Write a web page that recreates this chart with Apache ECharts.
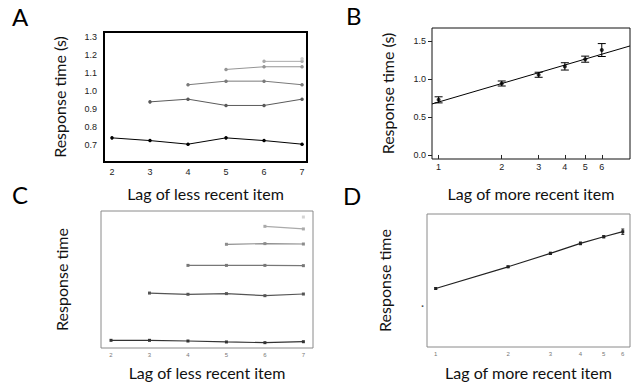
<!DOCTYPE html>
<html>
<head>
<meta charset="utf-8">
<script src="https://cdn.jsdelivr.net/npm/echarts@6/dist/echarts.min.js"></script>
<style>
  html, body { margin: 0; padding: 0; background: #fff; }
  #chart { width: 637px; height: 387px; }
</style>
</head>
<body>
<div id="chart"></div>
<script>
// Panel A: response time by lag of less recent item, one line per more-recent lag
const lagsA = [2, 3, 4, 5, 6, 7];
const rtA = [
  [0.74, 0.725, 0.705, 0.74, 0.725, 0.705],
  [null, 0.94, 0.955, 0.92, 0.92, 0.955],
  [null, null, 1.035, 1.055, 1.055, 1.035],
  [null, null, null, 1.12, 1.135, 1.135],
  [null, null, null, null, 1.165, 1.165],
  [null, null, null, null, null, 1.18]
];
const ticksA = [0.7, 0.8, 0.9, 1.0, 1.1, 1.2, 1.3];

// Panel B: mean response time with error bars and log fit
const lagsB = [1, 2, 3, 4, 5, 6];
const meanB = [0.725, 0.94, 1.055, 1.165, 1.26, 1.38];
const errB = [0.04, 0.033, 0.033, 0.048, 0.04, 0.085];
const fitXB = [0.93, 8.18];
const fitYB = [0.671, 1.434];
const ticksB = [0, 0.5, 1.0, 1.5];

// Panel C: model predictions (arbitrary units)
const lagsC = [2, 3, 4, 5, 6, 7];
const rtC = [
  [5.6, 5.6, 5.1, 4.4, 3.9, 4.6],
  [null, 40.1, 39.2, 39.7, 38.2, 39.4],
  [null, null, 60.3, 60.3, 60.3, 60.1],
  [null, null, null, 75.7, 76.2, 75.9],
  [null, null, null, null, 88.8, 86.9],
  [null, null, null, null, null, 95.6]
];

// Panel D: model predictions by lag of more recent item (arbitrary units)
const lagsD = [1, 2, 3, 4, 5, 6];
const rtD = [44.0, 60.3, 70.4, 77.9, 82.9, 86.7];
const errD = [0.6, 0.6, 0.8, 1.0, 0.8, 2.0];
const tickD = [33];

const colorsA = ['#000000', '#5a5a5a', '#7a7a7a', '#959595', '#aaaaaa', '#cccccc'];
const colorsC = ['#333333', '#555555', '#777777', '#8c8c8c', '#aaaaaa', '#d4d4d4'];

const titleFont = 'Lato, "Open Sans", sans-serif';
const tickFont = '"Liberation Sans", Arial, sans-serif';

function pairs(xs, ys) {
  const out = [];
  ys.forEach((y, i) => { if (y != null) out.push([xs[i], y]); });
  return out;
}

function errorBars(xIdx, yIdx, xs, mean, err, cap, color, z) {
  return {
    type: 'custom',
    xAxisIndex: xIdx,
    yAxisIndex: yIdx,
    z: z || 3,
    data: xs.map((x, i) => [x, mean[i] - err[i], mean[i] + err[i]]),
    renderItem: function (params, api) {
      const lo = api.coord([api.value(0), api.value(1)]);
      const hi = api.coord([api.value(0), api.value(2)]);
      const st = { stroke: color, lineWidth: 1 };
      return {
        type: 'group',
        children: [
          { type: 'line', shape: { x1: lo[0], y1: lo[1], x2: hi[0], y2: hi[1] }, style: st },
          { type: 'line', shape: { x1: lo[0] - cap, y1: lo[1], x2: lo[0] + cap, y2: lo[1] }, style: st },
          { type: 'line', shape: { x1: hi[0] - cap, y1: hi[1], x2: hi[0] + cap, y2: hi[1] }, style: st }
        ]
      };
    }
  };
}

const series = [];

rtA.forEach((row, i) => {
  series.push({
    type: 'line', xAxisIndex: 0, yAxisIndex: 0,
    data: pairs(lagsA, row),
    symbol: 'circle', symbolSize: 3.5,
    itemStyle: { color: colorsA[i] },
    lineStyle: { color: colorsA[i], width: 1 },
    silent: true, animation: false
  });
});

series.push({
  type: 'line', xAxisIndex: 1, yAxisIndex: 1,
  data: pairs(fitXB, fitYB),
  symbol: 'none',
  lineStyle: { color: '#000', width: 1 },
  silent: true, animation: false
});
series.push(errorBars(1, 1, lagsB, meanB, errB, 4, '#000', 4));
series.push({
  type: 'scatter', xAxisIndex: 1, yAxisIndex: 1,
  data: pairs(lagsB, meanB),
  symbol: 'circle', symbolSize: 4,
  itemStyle: { color: '#000' },
  silent: true, animation: false, z: 5
});

rtC.forEach((row, i) => {
  series.push({
    type: 'line', xAxisIndex: 2, yAxisIndex: 2,
    data: pairs(lagsC, row),
    symbol: 'rect', symbolSize: 3,
    itemStyle: { color: colorsC[i] },
    lineStyle: { color: colorsC[i], width: 1.2 },
    silent: true, animation: false
  });
});

series.push({
  type: 'line', xAxisIndex: 3, yAxisIndex: 3,
  data: pairs(lagsD, rtD),
  symbol: 'rect', symbolSize: 3,
  itemStyle: { color: '#222' },
  lineStyle: { color: '#222', width: 1.2 },
  silent: true, animation: false
});
series.push(errorBars(3, 3, lagsD, rtD, errD, 1.5, '#222', 4));

const chart = echarts.init(document.getElementById('chart'), null, { renderer: 'svg' });

chart.setOption({
  animation: false,
  backgroundColor: '#fff',
  grid: [
    { left: 104, top: 32, width: 203, height: 130, show: true, borderColor: '#000', borderWidth: 2, backgroundColor: 'transparent' },
    { left: 432, top: 28, width: 198, height: 131, show: true, borderColor: '#111', borderWidth: 1, backgroundColor: 'transparent' },
    { left: 101, top: 211, width: 212, height: 137, show: true, borderColor: '#8a8a8a', borderWidth: 1, backgroundColor: 'transparent' },
    { left: 427, top: 214, width: 203, height: 133, show: true, borderColor: '#8a8a8a', borderWidth: 1, backgroundColor: 'transparent' }
  ],
  xAxis: [
    {
      gridIndex: 0, type: 'value', min: 1.79, max: 7.13,
      splitLine: { show: false }, axisLine: { show: false }, axisTick: { show: false },
      axisLabel: { customValues: lagsA, margin: 5, fontSize: 9, color: '#222', fontFamily: tickFont },
      name: 'Lag of less recent item', nameLocation: 'middle', nameGap: 23,
      nameTextStyle: { fontSize: 16, color: '#111', fontFamily: titleFont }
    },
    {
      gridIndex: 1, type: 'log', logBase: 10, min: 0.93, max: 8.18,
      splitLine: { show: false }, axisLine: { show: false },
      axisTick: { customValues: lagsB, length: 4, lineStyle: { color: '#222' } },
      axisLabel: { customValues: lagsB, margin: 3, fontSize: 9, color: '#222', fontFamily: tickFont },
      name: 'Lag of more recent item', nameLocation: 'middle', nameGap: 26,
      nameTextStyle: { fontSize: 16, color: '#111', fontFamily: titleFont }
    },
    {
      gridIndex: 2, type: 'value', min: 1.74, max: 7.25,
      splitLine: { show: false }, axisLine: { show: false }, axisTick: { show: false },
      axisLabel: { customValues: lagsC, margin: 4, fontSize: 6, color: '#777', fontFamily: tickFont },
      name: 'Lag of less recent item', nameLocation: 'middle', nameGap: 16,
      nameTextStyle: { fontSize: 16, color: '#111', fontFamily: titleFont }
    },
    {
      gridIndex: 3, type: 'log', logBase: 10, min: 0.92, max: 6.43,
      splitLine: { show: false }, axisLine: { show: false }, axisTick: { show: false },
      axisLabel: { customValues: lagsD, margin: 4, fontSize: 6, color: '#777', fontFamily: tickFont },
      name: 'Lag of more recent item', nameLocation: 'middle', nameGap: 17,
      nameTextStyle: { fontSize: 16, color: '#111', fontFamily: titleFont }
    }
  ],
  yAxis: [
    {
      gridIndex: 0, type: 'value', min: 0.606, max: 1.328,
      splitLine: { show: false }, axisLine: { show: false }, axisTick: { show: false },
      axisLabel: { customValues: ticksA, margin: 7, fontSize: 9, color: '#222', fontFamily: tickFont,
        formatter: v => v.toFixed(1) },
      name: 'Response time (s)', nameLocation: 'middle', nameGap: 37, nameRotate: 90,
      nameTextStyle: { fontSize: 16, color: '#111', fontFamily: titleFont }
    },
    {
      gridIndex: 1, type: 'value', min: -0.053, max: 1.67,
      splitLine: { show: false }, axisLine: { show: false },
      axisTick: { customValues: ticksB, length: 4, lineStyle: { color: '#222' } },
      axisLabel: { customValues: ticksB, margin: 6, fontSize: 9, color: '#222', fontFamily: tickFont,
        formatter: v => v.toFixed(1) },
      name: 'Response time (s)', nameLocation: 'middle', nameGap: 37, nameRotate: 90,
      nameTextStyle: { fontSize: 16, color: '#111', fontFamily: titleFont }
    },
    {
      gridIndex: 2, type: 'value', min: 0, max: 100,
      splitLine: { show: false }, axisLine: { show: false }, axisTick: { show: false },
      axisLabel: { show: false },
      name: 'Response time', nameLocation: 'middle', nameGap: 32, nameRotate: 90,
      nameTextStyle: { fontSize: 16, color: '#111', fontFamily: titleFont }
    },
    {
      gridIndex: 3, type: 'value', min: 0, max: 100,
      splitLine: { show: false }, axisLine: { show: false }, axisTick: { show: false },
      axisLabel: { customValues: tickD, margin: 3, fontSize: 11, fontWeight: 'bold', color: '#555', fontFamily: tickFont,
        formatter: () => '.' },
      name: 'Response time', nameLocation: 'middle', nameGap: 35, nameRotate: 90,
      nameTextStyle: { fontSize: 16, color: '#111', fontFamily: titleFont }
    }
  ],
  graphic: [
    { type: 'text', left: 12, top: 4, style: { text: 'A', fontSize: 24, fill: '#000', fontFamily: titleFont } },
    { type: 'text', left: 346, top: 3, style: { text: 'B', fontSize: 24, fill: '#000', fontFamily: titleFont } },
    { type: 'text', left: 12, top: 182, style: { text: 'C', fontSize: 24, fill: '#000', fontFamily: titleFont } },
    { type: 'text', left: 343, top: 183, style: { text: 'D', fontSize: 24, fill: '#000', fontFamily: titleFont } }
  ],
  series: series
});
</script>
</body>
</html>
